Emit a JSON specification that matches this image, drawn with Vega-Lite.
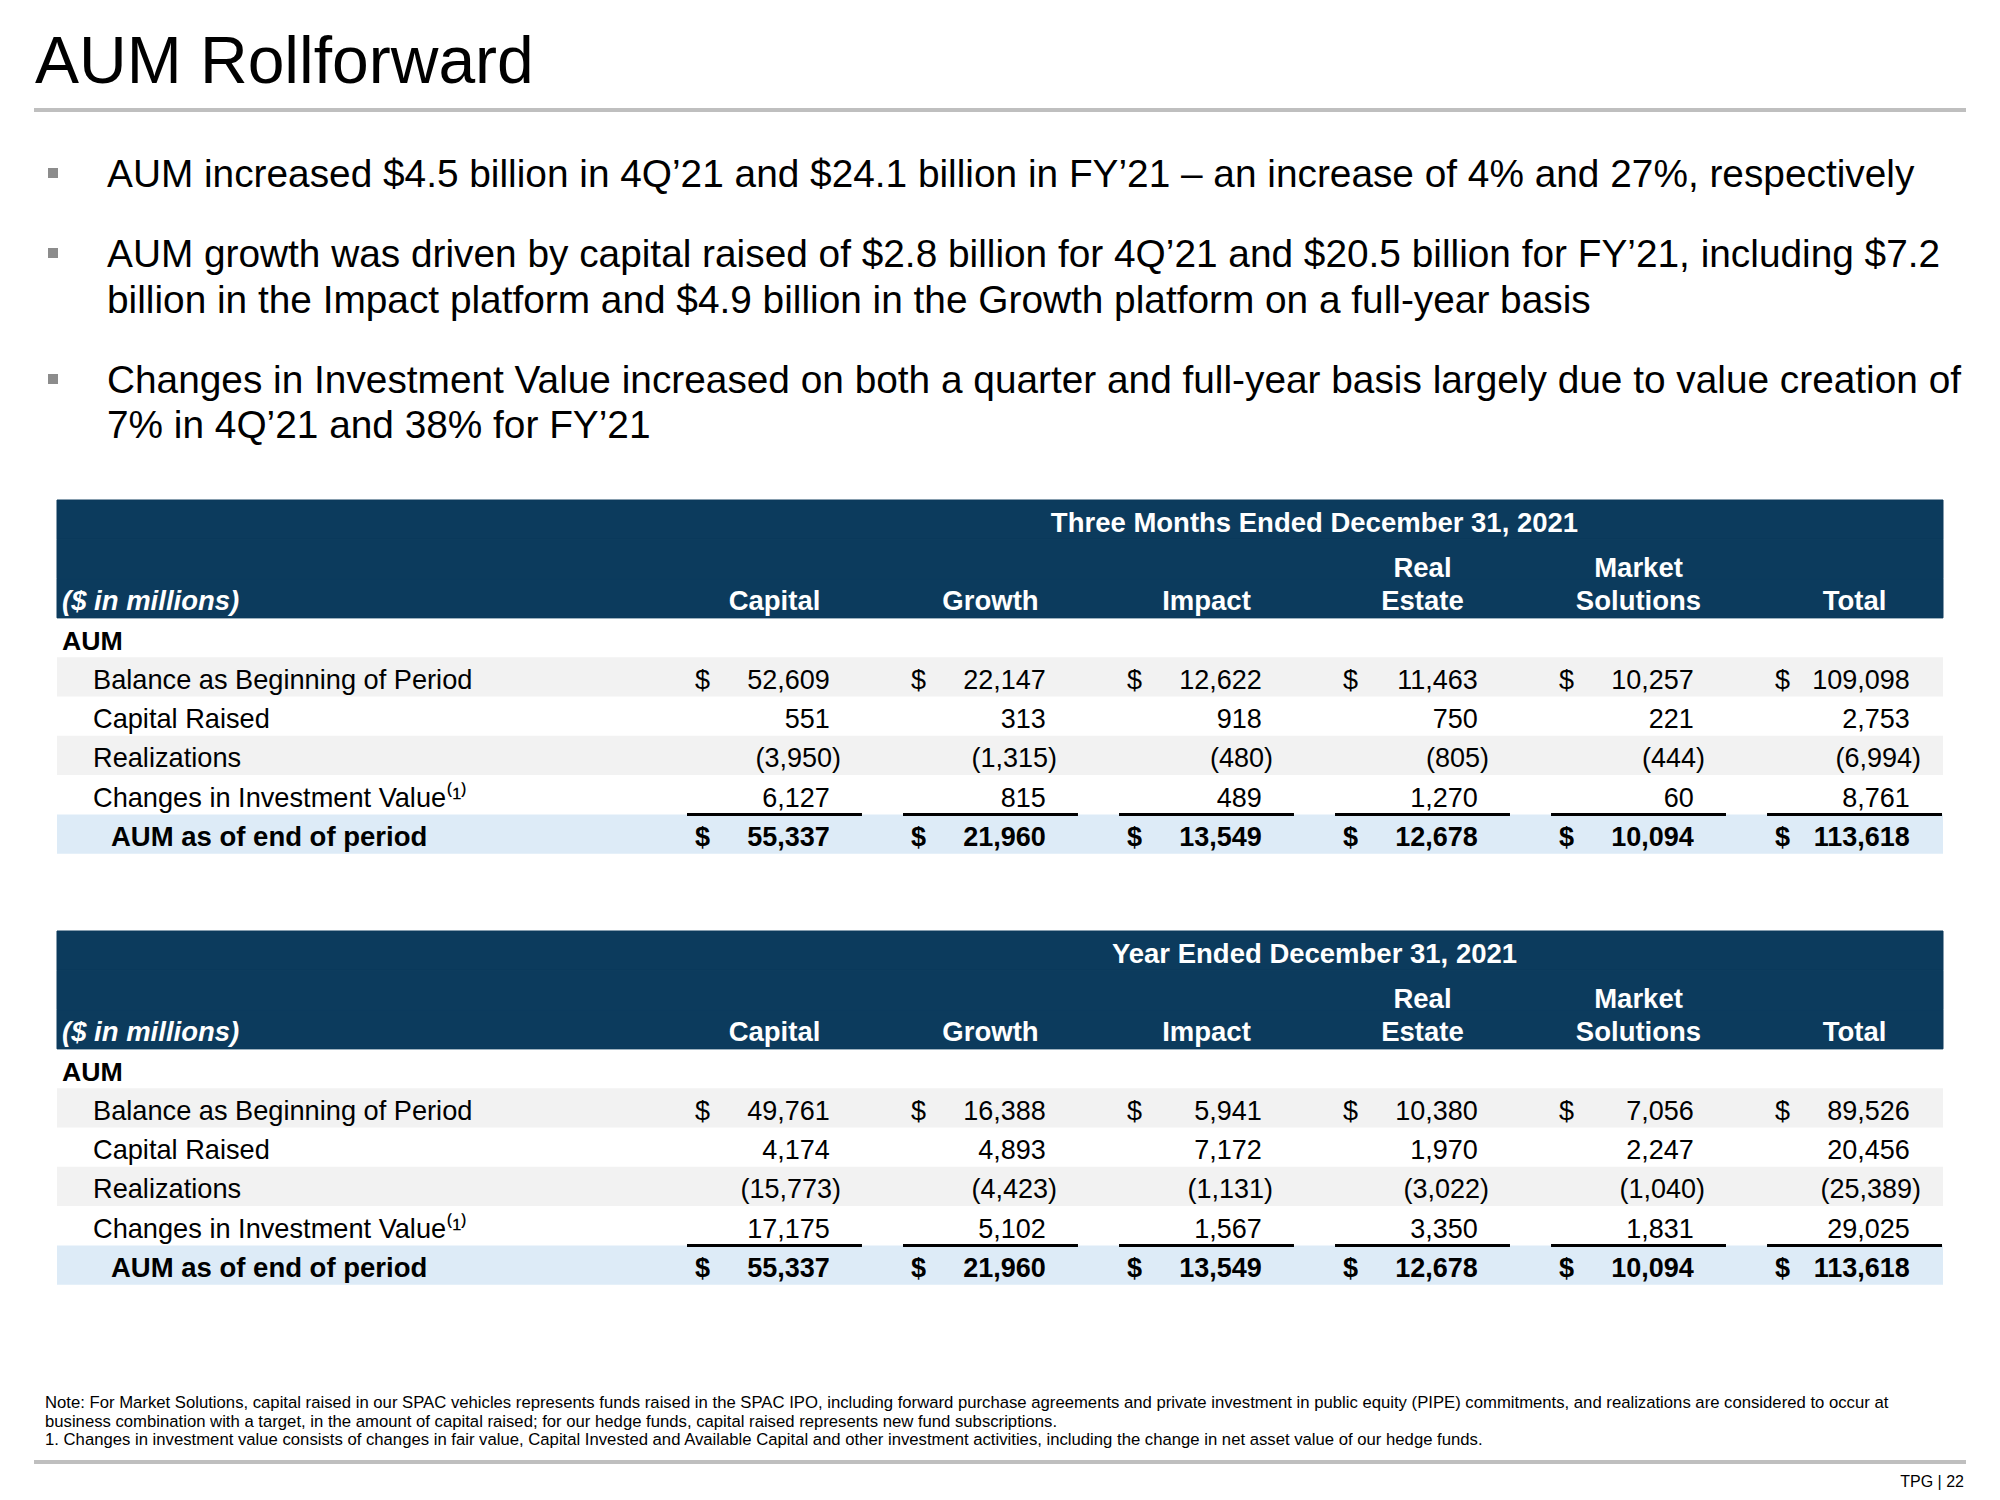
{
"$schema":"https://vega.github.io/schema/vega-lite/v6.json",
"width":2000,"height":1500,"padding":0,
"autosize":{"type":"fit","contains":"padding"},
"background":"#ffffff",
"config":{"view":{"stroke":null},"text":{"font":"Liberation Sans"}},
"datasets":{
"slideText":[
{"block":"title","line":"1","text":"AUM Rollforward"},
{"block":"bullet1","line":"1","text":"AUM increased $4.5 billion in 4Q’21 and $24.1 billion in FY’21 – an increase of 4% and 27%, respectively"},
{"block":"bullet2","line":"1","text":"AUM growth was driven by capital raised of $2.8 billion for 4Q’21 and $20.5 billion for FY’21, including $7.2"},
{"block":"bullet2","line":"2","text":"billion in the Impact platform and $4.9 billion in the Growth platform on a full-year basis"},
{"block":"bullet3","line":"1","text":"Changes in Investment Value increased on both a quarter and full-year basis largely due to value creation of"},
{"block":"bullet3","line":"2","text":"7% in 4Q’21 and 38% for FY’21"},
{"block":"note","line":"1","text":"Note: For Market Solutions, capital raised in our SPAC vehicles represents funds raised in the SPAC IPO, including forward purchase agreements and private investment in public equity (PIPE) commitments, and realizations are considered to occur at"},
{"block":"note","line":"2","text":"business combination with a target, in the amount of capital raised; for our hedge funds, capital raised represents new fund subscriptions."},
{"block":"note","line":"3","text":"1. Changes in investment value consists of changes in fair value, Capital Invested and Available Capital and other investment activities, including the change in net asset value of our hedge funds."},
{"block":"page","line":"1","text":"TPG | 22"}
],
"rules":[{"rule":"top"},{"rule":"bottom"}],
"periods":[{"period":"Q4 2021","title":"Three Months Ended December 31, 2021"},{"period":"FY 2021","title":"Year Ended December 31, 2021"}],
"headerSlots":[{"slot":"title"},{"slot":"upper"},{"slot":"names"}],
"columns":[
{"segment":"Capital","slot":"names","label":"Capital"},
{"segment":"Growth","slot":"names","label":"Growth"},
{"segment":"Impact","slot":"names","label":"Impact"},
{"segment":"Real Estate","slot":"upper","label":"Real"},
{"segment":"Real Estate","slot":"names","label":"Estate"},
{"segment":"Market Solutions","slot":"upper","label":"Market"},
{"segment":"Market Solutions","slot":"names","label":"Solutions"},
{"segment":"Total","slot":"names","label":"Total"}
],
"stub":[{"role":"unit","slot":"names","text":"($ in millions)"},{"role":"section","slot":"section","text":"AUM"}],
"cells":[
{"period":"Q4 2021","segment":"Capital","item":"Balance as Beginning of Period","value":52609},
{"period":"Q4 2021","segment":"Capital","item":"Capital Raised","value":551},
{"period":"Q4 2021","segment":"Capital","item":"Realizations","value":-3950},
{"period":"Q4 2021","segment":"Capital","item":"Changes in Investment Value⁽¹⁾","value":6127},
{"period":"Q4 2021","segment":"Capital","item":"AUM as of end of period","value":55337},
{"period":"Q4 2021","segment":"Growth","item":"Balance as Beginning of Period","value":22147},
{"period":"Q4 2021","segment":"Growth","item":"Capital Raised","value":313},
{"period":"Q4 2021","segment":"Growth","item":"Realizations","value":-1315},
{"period":"Q4 2021","segment":"Growth","item":"Changes in Investment Value⁽¹⁾","value":815},
{"period":"Q4 2021","segment":"Growth","item":"AUM as of end of period","value":21960},
{"period":"Q4 2021","segment":"Impact","item":"Balance as Beginning of Period","value":12622},
{"period":"Q4 2021","segment":"Impact","item":"Capital Raised","value":918},
{"period":"Q4 2021","segment":"Impact","item":"Realizations","value":-480},
{"period":"Q4 2021","segment":"Impact","item":"Changes in Investment Value⁽¹⁾","value":489},
{"period":"Q4 2021","segment":"Impact","item":"AUM as of end of period","value":13549},
{"period":"Q4 2021","segment":"Real Estate","item":"Balance as Beginning of Period","value":11463},
{"period":"Q4 2021","segment":"Real Estate","item":"Capital Raised","value":750},
{"period":"Q4 2021","segment":"Real Estate","item":"Realizations","value":-805},
{"period":"Q4 2021","segment":"Real Estate","item":"Changes in Investment Value⁽¹⁾","value":1270},
{"period":"Q4 2021","segment":"Real Estate","item":"AUM as of end of period","value":12678},
{"period":"Q4 2021","segment":"Market Solutions","item":"Balance as Beginning of Period","value":10257},
{"period":"Q4 2021","segment":"Market Solutions","item":"Capital Raised","value":221},
{"period":"Q4 2021","segment":"Market Solutions","item":"Realizations","value":-444},
{"period":"Q4 2021","segment":"Market Solutions","item":"Changes in Investment Value⁽¹⁾","value":60},
{"period":"Q4 2021","segment":"Market Solutions","item":"AUM as of end of period","value":10094},
{"period":"Q4 2021","segment":"Total","item":"Balance as Beginning of Period","value":109098},
{"period":"Q4 2021","segment":"Total","item":"Capital Raised","value":2753},
{"period":"Q4 2021","segment":"Total","item":"Realizations","value":-6994},
{"period":"Q4 2021","segment":"Total","item":"Changes in Investment Value⁽¹⁾","value":8761},
{"period":"Q4 2021","segment":"Total","item":"AUM as of end of period","value":113618},
{"period":"FY 2021","segment":"Capital","item":"Balance as Beginning of Period","value":49761},
{"period":"FY 2021","segment":"Capital","item":"Capital Raised","value":4174},
{"period":"FY 2021","segment":"Capital","item":"Realizations","value":-15773},
{"period":"FY 2021","segment":"Capital","item":"Changes in Investment Value⁽¹⁾","value":17175},
{"period":"FY 2021","segment":"Capital","item":"AUM as of end of period","value":55337},
{"period":"FY 2021","segment":"Growth","item":"Balance as Beginning of Period","value":16388},
{"period":"FY 2021","segment":"Growth","item":"Capital Raised","value":4893},
{"period":"FY 2021","segment":"Growth","item":"Realizations","value":-4423},
{"period":"FY 2021","segment":"Growth","item":"Changes in Investment Value⁽¹⁾","value":5102},
{"period":"FY 2021","segment":"Growth","item":"AUM as of end of period","value":21960},
{"period":"FY 2021","segment":"Impact","item":"Balance as Beginning of Period","value":5941},
{"period":"FY 2021","segment":"Impact","item":"Capital Raised","value":7172},
{"period":"FY 2021","segment":"Impact","item":"Realizations","value":-1131},
{"period":"FY 2021","segment":"Impact","item":"Changes in Investment Value⁽¹⁾","value":1567},
{"period":"FY 2021","segment":"Impact","item":"AUM as of end of period","value":13549},
{"period":"FY 2021","segment":"Real Estate","item":"Balance as Beginning of Period","value":10380},
{"period":"FY 2021","segment":"Real Estate","item":"Capital Raised","value":1970},
{"period":"FY 2021","segment":"Real Estate","item":"Realizations","value":-3022},
{"period":"FY 2021","segment":"Real Estate","item":"Changes in Investment Value⁽¹⁾","value":3350},
{"period":"FY 2021","segment":"Real Estate","item":"AUM as of end of period","value":12678},
{"period":"FY 2021","segment":"Market Solutions","item":"Balance as Beginning of Period","value":7056},
{"period":"FY 2021","segment":"Market Solutions","item":"Capital Raised","value":2247},
{"period":"FY 2021","segment":"Market Solutions","item":"Realizations","value":-1040},
{"period":"FY 2021","segment":"Market Solutions","item":"Changes in Investment Value⁽¹⁾","value":1831},
{"period":"FY 2021","segment":"Market Solutions","item":"AUM as of end of period","value":10094},
{"period":"FY 2021","segment":"Total","item":"Balance as Beginning of Period","value":89526},
{"period":"FY 2021","segment":"Total","item":"Capital Raised","value":20456},
{"period":"FY 2021","segment":"Total","item":"Realizations","value":-25389},
{"period":"FY 2021","segment":"Total","item":"Changes in Investment Value⁽¹⁾","value":29025},
{"period":"FY 2021","segment":"Total","item":"AUM as of end of period","value":113618}
]
},
"resolve":{"scale":{"x":"independent","y":"independent"}},
"layer":[
{"data":{"name":"rules"},"mark":{"type":"rule","color":"#BFBFBF","strokeWidth":4},
 "encoding":{"y":{"field":"rule","type":"nominal","scale":{"type":"point","domain":["top","bottom"],"range":[110,1462],"padding":0},"axis":null},
 "x":{"datum":"start","type":"nominal","scale":{"type":"point","domain":["start","end"],"range":[34,1966],"padding":0},"axis":null},"x2":{"datum":"end"}}},
{"data":{"name":"slideText"},"transform":[{"filter":"datum.block==='title'"}],
 "mark":{"type":"text","align":"left","baseline":"alphabetic","fontSize":66,"color":"#000000"},
 "encoding":{"text":{"field":"text"},"x":{"datum":"left","type":"nominal","scale":{"type":"point","domain":["left"],"range":[35,35],"padding":0},"axis":null},
 "y":{"field":"line","type":"nominal","scale":{"type":"point","domain":["1"],"range":[83,83],"padding":0},"axis":null}}},
{"data":{"name":"slideText"},"transform":[{"filter":"datum.block==='bullet1'"}],"layer":[
 {"mark":{"type":"text","align":"left","baseline":"alphabetic","dy":14,"fontSize":38.8,"color":"#000000"},
  "encoding":{"text":{"field":"text"},"x":{"datum":"text","type":"nominal","scale":{"type":"point","domain":["marker","text"],"range":[53,107],"padding":0},"axis":null},
  "y":{"field":"line","type":"nominal","scale":{"type":"point","domain":["1"],"range":[173,173],"padding":0},"axis":null}}},
 {"transform":[{"filter":"datum.line==='1'"}],"mark":{"type":"square","filled":true,"color":"#8C8C8C","size":100,"opacity":1},
  "encoding":{"x":{"datum":"marker","type":"nominal","scale":{"type":"point","domain":["marker","text"],"range":[53,107],"padding":0},"axis":null},
  "y":{"field":"line","type":"nominal","scale":{"type":"point","domain":["1"],"range":[173,173],"padding":0},"axis":null}}}]},
{"data":{"name":"slideText"},"transform":[{"filter":"datum.block==='bullet2'"}],"layer":[
 {"mark":{"type":"text","align":"left","baseline":"alphabetic","dy":14,"fontSize":38.8,"color":"#000000"},
  "encoding":{"text":{"field":"text"},"x":{"datum":"text","type":"nominal","scale":{"type":"point","domain":["marker","text"],"range":[53,107],"padding":0},"axis":null},
  "y":{"field":"line","type":"nominal","scale":{"type":"point","domain":["1","2"],"range":[253,299],"padding":0},"axis":null}}},
 {"transform":[{"filter":"datum.line==='1'"}],"mark":{"type":"square","filled":true,"color":"#8C8C8C","size":100,"opacity":1},
  "encoding":{"x":{"datum":"marker","type":"nominal","scale":{"type":"point","domain":["marker","text"],"range":[53,107],"padding":0},"axis":null},
  "y":{"field":"line","type":"nominal","scale":{"type":"point","domain":["1","2"],"range":[253,299],"padding":0},"axis":null}}}]},
{"data":{"name":"slideText"},"transform":[{"filter":"datum.block==='bullet3'"}],"layer":[
 {"mark":{"type":"text","align":"left","baseline":"alphabetic","dy":14,"fontSize":38.8,"color":"#000000"},
  "encoding":{"text":{"field":"text"},"x":{"datum":"text","type":"nominal","scale":{"type":"point","domain":["marker","text"],"range":[53,107],"padding":0},"axis":null},
  "y":{"field":"line","type":"nominal","scale":{"type":"point","domain":["1","2"],"range":[379,424],"padding":0},"axis":null}}},
 {"transform":[{"filter":"datum.line==='1'"}],"mark":{"type":"square","filled":true,"color":"#8C8C8C","size":100,"opacity":1},
  "encoding":{"x":{"datum":"marker","type":"nominal","scale":{"type":"point","domain":["marker","text"],"range":[53,107],"padding":0},"axis":null},
  "y":{"field":"line","type":"nominal","scale":{"type":"point","domain":["1","2"],"range":[379,424],"padding":0},"axis":null}}}]},
{"data":{"name":"slideText"},"transform":[{"filter":"datum.block==='note'"}],
 "mark":{"type":"text","align":"left","baseline":"alphabetic","fontSize":16.7,"color":"#000000"},
 "encoding":{"text":{"field":"text"},"x":{"datum":"left","type":"nominal","scale":{"type":"point","domain":["left"],"range":[45,45],"padding":0},"axis":null},
 "y":{"field":"line","type":"nominal","scale":{"type":"point","domain":["1","2","3"],"range":[1408,1445],"padding":0},"axis":null}}},
{"data":{"name":"slideText"},"transform":[{"filter":"datum.block==='page'"}],
 "mark":{"type":"text","align":"right","baseline":"alphabetic","fontSize":16,"color":"#000000"},
 "encoding":{"text":{"field":"text"},"x":{"datum":"right","type":"nominal","scale":{"type":"point","domain":["right"],"range":[1964,1964],"padding":0},"axis":null},
 "y":{"field":"line","type":"nominal","scale":{"type":"point","domain":["1"],"range":[1487,1487],"padding":0},"axis":null}}},
{"resolve":{"scale":{"x":"independent"}},"layer":[
 {"data":{"name":"headerSlots"},"mark":{"type":"rect","color":"#0C3B5D","stroke":"#0C3B5D","strokeWidth":1},
  "encoding":{"x":{"datum":"start","type":"nominal","scale":{"type":"point","domain":["start","end"],"range":[57,1943],"padding":0},"axis":null},"x2":{"datum":"end"},
  "y":{"field":"slot","type":"nominal","scale":{"type":"band","domain":["title","upper","names","section","Balance as Beginning of Period","Capital Raised","Realizations","Changes in Investment Value⁽¹⁾","AUM as of end of period"],"range":[500,853.7],"paddingInner":0,"paddingOuter":0},"axis":null}}},
 {"data":{"name":"cells"},"transform":[{"filter":"datum.period==='Q4 2021' && datum.segment==='Capital' && (datum.item==='Balance as Beginning of Period' || datum.item==='Realizations')"}],
  "mark":{"type":"rect","color":"#F2F2F2"},
  "encoding":{"x":{"datum":"start","type":"nominal","scale":{"type":"point","domain":["start","end"],"range":[57,1943],"padding":0},"axis":null},"x2":{"datum":"end"},
  "y":{"field":"item","type":"nominal","scale":{"type":"band","domain":["title","upper","names","section","Balance as Beginning of Period","Capital Raised","Realizations","Changes in Investment Value⁽¹⁾","AUM as of end of period"],"range":[500,853.7],"paddingInner":0,"paddingOuter":0},"axis":null}}},
 {"data":{"name":"cells"},"transform":[{"filter":"datum.period==='Q4 2021' && datum.segment==='Capital' && datum.item==='AUM as of end of period'"}],
  "mark":{"type":"rect","color":"#DDEBF7"},
  "encoding":{"x":{"datum":"start","type":"nominal","scale":{"type":"point","domain":["start","end"],"range":[57,1943],"padding":0},"axis":null},"x2":{"datum":"end"},
  "y":{"field":"item","type":"nominal","scale":{"type":"band","domain":["title","upper","names","section","Balance as Beginning of Period","Capital Raised","Realizations","Changes in Investment Value⁽¹⁾","AUM as of end of period"],"range":[500,853.7],"paddingInner":0,"paddingOuter":0},"axis":null}}},
 {"data":{"name":"cells"},"transform":[{"filter":"datum.period==='Q4 2021' && datum.item==='AUM as of end of period'"}],
  "mark":{"type":"rule","color":"#000000","strokeWidth":3},
  "encoding":{"x":{"field":"segment","type":"nominal","bandPosition":0,"scale":{"type":"band","domain":["Capital","Growth","Impact","Real Estate","Market Solutions","Total"],"range":[687,1942],"paddingInner":0.19,"paddingOuter":0},"axis":null},
  "x2":{"field":"segment","bandPosition":1},
  "y":{"field":"item","type":"nominal","bandPosition":0,"scale":{"type":"band","domain":["title","upper","names","section","Balance as Beginning of Period","Capital Raised","Realizations","Changes in Investment Value⁽¹⁾","AUM as of end of period"],"range":[500,853.7],"paddingInner":0,"paddingOuter":0},"axis":null}}},
 {"data":{"name":"periods"},"transform":[{"filter":"datum.period==='Q4 2021'"}],
  "mark":{"type":"text","align":"center","baseline":"middle","dy":4,"fontSize":27.5,"fontWeight":"bold","color":"#FFFFFF"},
  "encoding":{"text":{"field":"title"},"x":{"datum":"numbers","type":"nominal","scale":{"type":"point","domain":["numbers"],"range":[687,1942],"padding":0.5},"axis":null},
  "y":{"datum":"title","type":"nominal","scale":{"type":"band","domain":["title","upper","names","section","Balance as Beginning of Period","Capital Raised","Realizations","Changes in Investment Value⁽¹⁾","AUM as of end of period"],"range":[500,853.7],"paddingInner":0,"paddingOuter":0},"axis":null}}},
 {"data":{"name":"columns"},"transform":[{"filter":"datum.slot==='names'"}],
  "mark":{"type":"text","align":"center","baseline":"middle","dy":4,"fontSize":27.5,"fontWeight":"bold","color":"#FFFFFF"},
  "encoding":{"text":{"field":"label"},"x":{"field":"segment","type":"nominal","scale":{"type":"band","domain":["Capital","Growth","Impact","Real Estate","Market Solutions","Total"],"range":[687,1942],"paddingInner":0.19,"paddingOuter":0},"axis":null},
  "y":{"field":"slot","type":"nominal","scale":{"type":"band","domain":["title","upper","names","section","Balance as Beginning of Period","Capital Raised","Realizations","Changes in Investment Value⁽¹⁾","AUM as of end of period"],"range":[500,853.7],"paddingInner":0,"paddingOuter":0},"axis":null}}},
 {"data":{"name":"columns"},"transform":[{"filter":"datum.slot==='upper'"}],
  "mark":{"type":"text","align":"center","baseline":"middle","dy":10,"fontSize":27.5,"fontWeight":"bold","color":"#FFFFFF"},
  "encoding":{"text":{"field":"label"},"x":{"field":"segment","type":"nominal","scale":{"type":"band","domain":["Capital","Growth","Impact","Real Estate","Market Solutions","Total"],"range":[687,1942],"paddingInner":0.19,"paddingOuter":0},"axis":null},
  "y":{"field":"slot","type":"nominal","scale":{"type":"band","domain":["title","upper","names","section","Balance as Beginning of Period","Capital Raised","Realizations","Changes in Investment Value⁽¹⁾","AUM as of end of period"],"range":[500,853.7],"paddingInner":0,"paddingOuter":0},"axis":null}}},
 {"data":{"name":"stub"},"transform":[{"filter":"datum.role==='unit'"}],
  "mark":{"type":"text","align":"left","baseline":"middle","dy":4,"fontSize":27.5,"fontWeight":"bold","fontStyle":"italic","color":"#FFFFFF"},
  "encoding":{"text":{"field":"text"},"x":{"datum":"stub","type":"nominal","scale":{"type":"point","domain":["stub","item"],"range":[62,93],"padding":0},"axis":null},
  "y":{"field":"slot","type":"nominal","scale":{"type":"band","domain":["title","upper","names","section","Balance as Beginning of Period","Capital Raised","Realizations","Changes in Investment Value⁽¹⁾","AUM as of end of period"],"range":[500,853.7],"paddingInner":0,"paddingOuter":0},"axis":null}}},
 {"data":{"name":"stub"},"transform":[{"filter":"datum.role==='section'"}],
  "mark":{"type":"text","align":"left","baseline":"middle","dy":4,"fontSize":26.7,"fontWeight":"bold","color":"#000000"},
  "encoding":{"text":{"field":"text"},"x":{"datum":"stub","type":"nominal","scale":{"type":"point","domain":["stub","item"],"range":[62,93],"padding":0},"axis":null},
  "y":{"field":"slot","type":"nominal","scale":{"type":"band","domain":["title","upper","names","section","Balance as Beginning of Period","Capital Raised","Realizations","Changes in Investment Value⁽¹⁾","AUM as of end of period"],"range":[500,853.7],"paddingInner":0,"paddingOuter":0},"axis":null}}},
 {"data":{"name":"cells"},"transform":[{"filter":"datum.period==='Q4 2021' && datum.segment==='Capital' && datum.item!=='AUM as of end of period'"}],
  "mark":{"type":"text","align":"left","baseline":"middle","dy":4,"fontSize":27.2,"color":"#000000"},
  "encoding":{"text":{"field":"item"},"x":{"datum":"item","type":"nominal","scale":{"type":"point","domain":["stub","item"],"range":[62,93],"padding":0},"axis":null},
  "y":{"field":"item","type":"nominal","scale":{"type":"band","domain":["title","upper","names","section","Balance as Beginning of Period","Capital Raised","Realizations","Changes in Investment Value⁽¹⁾","AUM as of end of period"],"range":[500,853.7],"paddingInner":0,"paddingOuter":0},"axis":null}}},
 {"data":{"name":"cells"},"transform":[{"filter":"datum.period==='Q4 2021' && datum.segment==='Capital' && datum.item==='AUM as of end of period'"}],
  "mark":{"type":"text","align":"left","baseline":"middle","dy":4,"dx":18,"fontSize":27.5,"fontWeight":"bold","color":"#000000"},
  "encoding":{"text":{"field":"item"},"x":{"datum":"item","type":"nominal","scale":{"type":"point","domain":["stub","item"],"range":[62,93],"padding":0},"axis":null},
  "y":{"field":"item","type":"nominal","scale":{"type":"band","domain":["title","upper","names","section","Balance as Beginning of Period","Capital Raised","Realizations","Changes in Investment Value⁽¹⁾","AUM as of end of period"],"range":[500,853.7],"paddingInner":0,"paddingOuter":0},"axis":null}}},
 {"data":{"name":"cells"},"transform":[{"filter":"datum.period==='Q4 2021' && datum.value>=0 && datum.item!=='AUM as of end of period'"}],
  "mark":{"type":"text","align":"right","baseline":"middle","dy":4,"fontSize":27,"color":"#000000"},
  "encoding":{"text":{"field":"value","type":"quantitative","format":",.0f"},"x":{"field":"segment","type":"nominal","bandPosition":0.816,"scale":{"type":"band","domain":["Capital","Growth","Impact","Real Estate","Market Solutions","Total"],"range":[687,1942],"paddingInner":0.19,"paddingOuter":0},"axis":null},
  "y":{"field":"item","type":"nominal","scale":{"type":"band","domain":["title","upper","names","section","Balance as Beginning of Period","Capital Raised","Realizations","Changes in Investment Value⁽¹⁾","AUM as of end of period"],"range":[500,853.7],"paddingInner":0,"paddingOuter":0},"axis":null}}},
 {"data":{"name":"cells"},"transform":[{"filter":"datum.period==='Q4 2021' && datum.value<0"}],
  "mark":{"type":"text","align":"right","baseline":"middle","dy":4,"fontSize":27,"color":"#000000"},
  "encoding":{"text":{"field":"value","type":"quantitative","format":"(,.0f"},"x":{"field":"segment","type":"nominal","bandPosition":0.88,"scale":{"type":"band","domain":["Capital","Growth","Impact","Real Estate","Market Solutions","Total"],"range":[687,1942],"paddingInner":0.19,"paddingOuter":0},"axis":null},
  "y":{"field":"item","type":"nominal","scale":{"type":"band","domain":["title","upper","names","section","Balance as Beginning of Period","Capital Raised","Realizations","Changes in Investment Value⁽¹⁾","AUM as of end of period"],"range":[500,853.7],"paddingInner":0,"paddingOuter":0},"axis":null}}},
 {"data":{"name":"cells"},"transform":[{"filter":"datum.period==='Q4 2021' && datum.item==='AUM as of end of period'"}],
  "mark":{"type":"text","align":"right","baseline":"middle","dy":4,"fontSize":27,"fontWeight":"bold","color":"#000000"},
  "encoding":{"text":{"field":"value","type":"quantitative","format":",.0f"},"x":{"field":"segment","type":"nominal","bandPosition":0.816,"scale":{"type":"band","domain":["Capital","Growth","Impact","Real Estate","Market Solutions","Total"],"range":[687,1942],"paddingInner":0.19,"paddingOuter":0},"axis":null},
  "y":{"field":"item","type":"nominal","scale":{"type":"band","domain":["title","upper","names","section","Balance as Beginning of Period","Capital Raised","Realizations","Changes in Investment Value⁽¹⁾","AUM as of end of period"],"range":[500,853.7],"paddingInner":0,"paddingOuter":0},"axis":null}}},
 {"data":{"name":"cells"},"transform":[{"filter":"datum.period==='Q4 2021' && datum.item==='Balance as Beginning of Period'"}],
  "mark":{"type":"text","align":"left","baseline":"middle","dy":4,"fontSize":27,"color":"#000000"},
  "encoding":{"text":{"value":"$"},"x":{"field":"segment","type":"nominal","bandPosition":0.046,"scale":{"type":"band","domain":["Capital","Growth","Impact","Real Estate","Market Solutions","Total"],"range":[687,1942],"paddingInner":0.19,"paddingOuter":0},"axis":null},
  "y":{"field":"item","type":"nominal","scale":{"type":"band","domain":["title","upper","names","section","Balance as Beginning of Period","Capital Raised","Realizations","Changes in Investment Value⁽¹⁾","AUM as of end of period"],"range":[500,853.7],"paddingInner":0,"paddingOuter":0},"axis":null}}},
 {"data":{"name":"cells"},"transform":[{"filter":"datum.period==='Q4 2021' && datum.item==='AUM as of end of period'"}],
  "mark":{"type":"text","align":"left","baseline":"middle","dy":4,"fontSize":27,"fontWeight":"bold","color":"#000000"},
  "encoding":{"text":{"value":"$"},"x":{"field":"segment","type":"nominal","bandPosition":0.046,"scale":{"type":"band","domain":["Capital","Growth","Impact","Real Estate","Market Solutions","Total"],"range":[687,1942],"paddingInner":0.19,"paddingOuter":0},"axis":null},
  "y":{"field":"item","type":"nominal","scale":{"type":"band","domain":["title","upper","names","section","Balance as Beginning of Period","Capital Raised","Realizations","Changes in Investment Value⁽¹⁾","AUM as of end of period"],"range":[500,853.7],"paddingInner":0,"paddingOuter":0},"axis":null}}}
]},
{"resolve":{"scale":{"x":"independent"}},"layer":[
 {"data":{"name":"headerSlots"},"mark":{"type":"rect","color":"#0C3B5D","stroke":"#0C3B5D","strokeWidth":1},
  "encoding":{"x":{"datum":"start","type":"nominal","scale":{"type":"point","domain":["start","end"],"range":[57,1943],"padding":0},"axis":null},"x2":{"datum":"end"},
  "y":{"field":"slot","type":"nominal","scale":{"type":"band","domain":["title","upper","names","section","Balance as Beginning of Period","Capital Raised","Realizations","Changes in Investment Value⁽¹⁾","AUM as of end of period"],"range":[931,1284.7],"paddingInner":0,"paddingOuter":0},"axis":null}}},
 {"data":{"name":"cells"},"transform":[{"filter":"datum.period==='FY 2021' && datum.segment==='Capital' && (datum.item==='Balance as Beginning of Period' || datum.item==='Realizations')"}],
  "mark":{"type":"rect","color":"#F2F2F2"},
  "encoding":{"x":{"datum":"start","type":"nominal","scale":{"type":"point","domain":["start","end"],"range":[57,1943],"padding":0},"axis":null},"x2":{"datum":"end"},
  "y":{"field":"item","type":"nominal","scale":{"type":"band","domain":["title","upper","names","section","Balance as Beginning of Period","Capital Raised","Realizations","Changes in Investment Value⁽¹⁾","AUM as of end of period"],"range":[931,1284.7],"paddingInner":0,"paddingOuter":0},"axis":null}}},
 {"data":{"name":"cells"},"transform":[{"filter":"datum.period==='FY 2021' && datum.segment==='Capital' && datum.item==='AUM as of end of period'"}],
  "mark":{"type":"rect","color":"#DDEBF7"},
  "encoding":{"x":{"datum":"start","type":"nominal","scale":{"type":"point","domain":["start","end"],"range":[57,1943],"padding":0},"axis":null},"x2":{"datum":"end"},
  "y":{"field":"item","type":"nominal","scale":{"type":"band","domain":["title","upper","names","section","Balance as Beginning of Period","Capital Raised","Realizations","Changes in Investment Value⁽¹⁾","AUM as of end of period"],"range":[931,1284.7],"paddingInner":0,"paddingOuter":0},"axis":null}}},
 {"data":{"name":"cells"},"transform":[{"filter":"datum.period==='FY 2021' && datum.item==='AUM as of end of period'"}],
  "mark":{"type":"rule","color":"#000000","strokeWidth":3},
  "encoding":{"x":{"field":"segment","type":"nominal","bandPosition":0,"scale":{"type":"band","domain":["Capital","Growth","Impact","Real Estate","Market Solutions","Total"],"range":[687,1942],"paddingInner":0.19,"paddingOuter":0},"axis":null},
  "x2":{"field":"segment","bandPosition":1},
  "y":{"field":"item","type":"nominal","bandPosition":0,"scale":{"type":"band","domain":["title","upper","names","section","Balance as Beginning of Period","Capital Raised","Realizations","Changes in Investment Value⁽¹⁾","AUM as of end of period"],"range":[931,1284.7],"paddingInner":0,"paddingOuter":0},"axis":null}}},
 {"data":{"name":"periods"},"transform":[{"filter":"datum.period==='FY 2021'"}],
  "mark":{"type":"text","align":"center","baseline":"middle","dy":4,"fontSize":27.5,"fontWeight":"bold","color":"#FFFFFF"},
  "encoding":{"text":{"field":"title"},"x":{"datum":"numbers","type":"nominal","scale":{"type":"point","domain":["numbers"],"range":[687,1942],"padding":0.5},"axis":null},
  "y":{"datum":"title","type":"nominal","scale":{"type":"band","domain":["title","upper","names","section","Balance as Beginning of Period","Capital Raised","Realizations","Changes in Investment Value⁽¹⁾","AUM as of end of period"],"range":[931,1284.7],"paddingInner":0,"paddingOuter":0},"axis":null}}},
 {"data":{"name":"columns"},"transform":[{"filter":"datum.slot==='names'"}],
  "mark":{"type":"text","align":"center","baseline":"middle","dy":4,"fontSize":27.5,"fontWeight":"bold","color":"#FFFFFF"},
  "encoding":{"text":{"field":"label"},"x":{"field":"segment","type":"nominal","scale":{"type":"band","domain":["Capital","Growth","Impact","Real Estate","Market Solutions","Total"],"range":[687,1942],"paddingInner":0.19,"paddingOuter":0},"axis":null},
  "y":{"field":"slot","type":"nominal","scale":{"type":"band","domain":["title","upper","names","section","Balance as Beginning of Period","Capital Raised","Realizations","Changes in Investment Value⁽¹⁾","AUM as of end of period"],"range":[931,1284.7],"paddingInner":0,"paddingOuter":0},"axis":null}}},
 {"data":{"name":"columns"},"transform":[{"filter":"datum.slot==='upper'"}],
  "mark":{"type":"text","align":"center","baseline":"middle","dy":10,"fontSize":27.5,"fontWeight":"bold","color":"#FFFFFF"},
  "encoding":{"text":{"field":"label"},"x":{"field":"segment","type":"nominal","scale":{"type":"band","domain":["Capital","Growth","Impact","Real Estate","Market Solutions","Total"],"range":[687,1942],"paddingInner":0.19,"paddingOuter":0},"axis":null},
  "y":{"field":"slot","type":"nominal","scale":{"type":"band","domain":["title","upper","names","section","Balance as Beginning of Period","Capital Raised","Realizations","Changes in Investment Value⁽¹⁾","AUM as of end of period"],"range":[931,1284.7],"paddingInner":0,"paddingOuter":0},"axis":null}}},
 {"data":{"name":"stub"},"transform":[{"filter":"datum.role==='unit'"}],
  "mark":{"type":"text","align":"left","baseline":"middle","dy":4,"fontSize":27.5,"fontWeight":"bold","fontStyle":"italic","color":"#FFFFFF"},
  "encoding":{"text":{"field":"text"},"x":{"datum":"stub","type":"nominal","scale":{"type":"point","domain":["stub","item"],"range":[62,93],"padding":0},"axis":null},
  "y":{"field":"slot","type":"nominal","scale":{"type":"band","domain":["title","upper","names","section","Balance as Beginning of Period","Capital Raised","Realizations","Changes in Investment Value⁽¹⁾","AUM as of end of period"],"range":[931,1284.7],"paddingInner":0,"paddingOuter":0},"axis":null}}},
 {"data":{"name":"stub"},"transform":[{"filter":"datum.role==='section'"}],
  "mark":{"type":"text","align":"left","baseline":"middle","dy":4,"fontSize":26.7,"fontWeight":"bold","color":"#000000"},
  "encoding":{"text":{"field":"text"},"x":{"datum":"stub","type":"nominal","scale":{"type":"point","domain":["stub","item"],"range":[62,93],"padding":0},"axis":null},
  "y":{"field":"slot","type":"nominal","scale":{"type":"band","domain":["title","upper","names","section","Balance as Beginning of Period","Capital Raised","Realizations","Changes in Investment Value⁽¹⁾","AUM as of end of period"],"range":[931,1284.7],"paddingInner":0,"paddingOuter":0},"axis":null}}},
 {"data":{"name":"cells"},"transform":[{"filter":"datum.period==='FY 2021' && datum.segment==='Capital' && datum.item!=='AUM as of end of period'"}],
  "mark":{"type":"text","align":"left","baseline":"middle","dy":4,"fontSize":27.2,"color":"#000000"},
  "encoding":{"text":{"field":"item"},"x":{"datum":"item","type":"nominal","scale":{"type":"point","domain":["stub","item"],"range":[62,93],"padding":0},"axis":null},
  "y":{"field":"item","type":"nominal","scale":{"type":"band","domain":["title","upper","names","section","Balance as Beginning of Period","Capital Raised","Realizations","Changes in Investment Value⁽¹⁾","AUM as of end of period"],"range":[931,1284.7],"paddingInner":0,"paddingOuter":0},"axis":null}}},
 {"data":{"name":"cells"},"transform":[{"filter":"datum.period==='FY 2021' && datum.segment==='Capital' && datum.item==='AUM as of end of period'"}],
  "mark":{"type":"text","align":"left","baseline":"middle","dy":4,"dx":18,"fontSize":27.5,"fontWeight":"bold","color":"#000000"},
  "encoding":{"text":{"field":"item"},"x":{"datum":"item","type":"nominal","scale":{"type":"point","domain":["stub","item"],"range":[62,93],"padding":0},"axis":null},
  "y":{"field":"item","type":"nominal","scale":{"type":"band","domain":["title","upper","names","section","Balance as Beginning of Period","Capital Raised","Realizations","Changes in Investment Value⁽¹⁾","AUM as of end of period"],"range":[931,1284.7],"paddingInner":0,"paddingOuter":0},"axis":null}}},
 {"data":{"name":"cells"},"transform":[{"filter":"datum.period==='FY 2021' && datum.value>=0 && datum.item!=='AUM as of end of period'"}],
  "mark":{"type":"text","align":"right","baseline":"middle","dy":4,"fontSize":27,"color":"#000000"},
  "encoding":{"text":{"field":"value","type":"quantitative","format":",.0f"},"x":{"field":"segment","type":"nominal","bandPosition":0.816,"scale":{"type":"band","domain":["Capital","Growth","Impact","Real Estate","Market Solutions","Total"],"range":[687,1942],"paddingInner":0.19,"paddingOuter":0},"axis":null},
  "y":{"field":"item","type":"nominal","scale":{"type":"band","domain":["title","upper","names","section","Balance as Beginning of Period","Capital Raised","Realizations","Changes in Investment Value⁽¹⁾","AUM as of end of period"],"range":[931,1284.7],"paddingInner":0,"paddingOuter":0},"axis":null}}},
 {"data":{"name":"cells"},"transform":[{"filter":"datum.period==='FY 2021' && datum.value<0"}],
  "mark":{"type":"text","align":"right","baseline":"middle","dy":4,"fontSize":27,"color":"#000000"},
  "encoding":{"text":{"field":"value","type":"quantitative","format":"(,.0f"},"x":{"field":"segment","type":"nominal","bandPosition":0.88,"scale":{"type":"band","domain":["Capital","Growth","Impact","Real Estate","Market Solutions","Total"],"range":[687,1942],"paddingInner":0.19,"paddingOuter":0},"axis":null},
  "y":{"field":"item","type":"nominal","scale":{"type":"band","domain":["title","upper","names","section","Balance as Beginning of Period","Capital Raised","Realizations","Changes in Investment Value⁽¹⁾","AUM as of end of period"],"range":[931,1284.7],"paddingInner":0,"paddingOuter":0},"axis":null}}},
 {"data":{"name":"cells"},"transform":[{"filter":"datum.period==='FY 2021' && datum.item==='AUM as of end of period'"}],
  "mark":{"type":"text","align":"right","baseline":"middle","dy":4,"fontSize":27,"fontWeight":"bold","color":"#000000"},
  "encoding":{"text":{"field":"value","type":"quantitative","format":",.0f"},"x":{"field":"segment","type":"nominal","bandPosition":0.816,"scale":{"type":"band","domain":["Capital","Growth","Impact","Real Estate","Market Solutions","Total"],"range":[687,1942],"paddingInner":0.19,"paddingOuter":0},"axis":null},
  "y":{"field":"item","type":"nominal","scale":{"type":"band","domain":["title","upper","names","section","Balance as Beginning of Period","Capital Raised","Realizations","Changes in Investment Value⁽¹⁾","AUM as of end of period"],"range":[931,1284.7],"paddingInner":0,"paddingOuter":0},"axis":null}}},
 {"data":{"name":"cells"},"transform":[{"filter":"datum.period==='FY 2021' && datum.item==='Balance as Beginning of Period'"}],
  "mark":{"type":"text","align":"left","baseline":"middle","dy":4,"fontSize":27,"color":"#000000"},
  "encoding":{"text":{"value":"$"},"x":{"field":"segment","type":"nominal","bandPosition":0.046,"scale":{"type":"band","domain":["Capital","Growth","Impact","Real Estate","Market Solutions","Total"],"range":[687,1942],"paddingInner":0.19,"paddingOuter":0},"axis":null},
  "y":{"field":"item","type":"nominal","scale":{"type":"band","domain":["title","upper","names","section","Balance as Beginning of Period","Capital Raised","Realizations","Changes in Investment Value⁽¹⁾","AUM as of end of period"],"range":[931,1284.7],"paddingInner":0,"paddingOuter":0},"axis":null}}},
 {"data":{"name":"cells"},"transform":[{"filter":"datum.period==='FY 2021' && datum.item==='AUM as of end of period'"}],
  "mark":{"type":"text","align":"left","baseline":"middle","dy":4,"fontSize":27,"fontWeight":"bold","color":"#000000"},
  "encoding":{"text":{"value":"$"},"x":{"field":"segment","type":"nominal","bandPosition":0.046,"scale":{"type":"band","domain":["Capital","Growth","Impact","Real Estate","Market Solutions","Total"],"range":[687,1942],"paddingInner":0.19,"paddingOuter":0},"axis":null},
  "y":{"field":"item","type":"nominal","scale":{"type":"band","domain":["title","upper","names","section","Balance as Beginning of Period","Capital Raised","Realizations","Changes in Investment Value⁽¹⁾","AUM as of end of period"],"range":[931,1284.7],"paddingInner":0,"paddingOuter":0},"axis":null}}}
]}
]
}
